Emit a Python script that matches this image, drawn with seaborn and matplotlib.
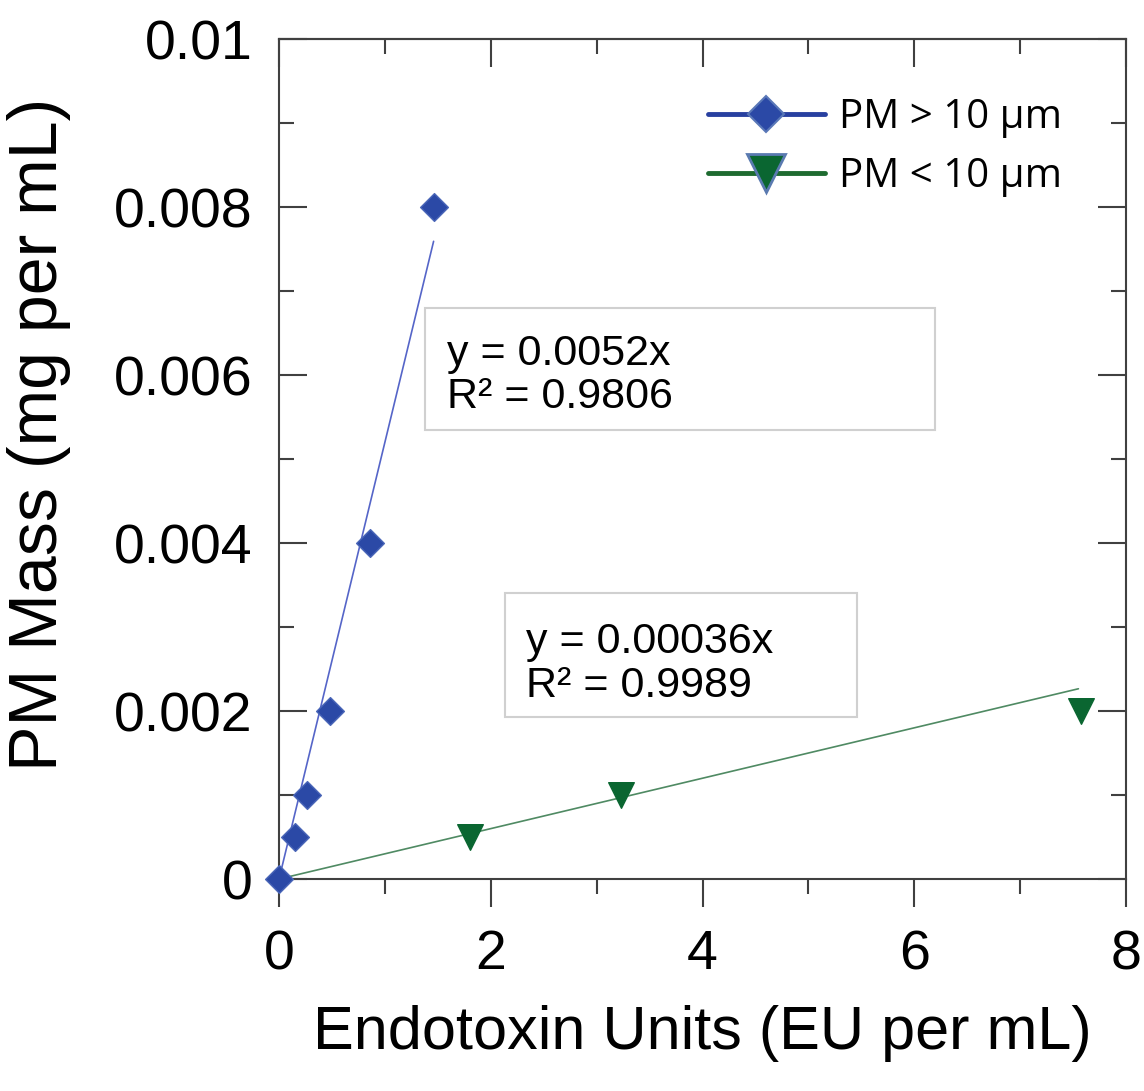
import numpy as np
import matplotlib
matplotlib.use("Agg")
import matplotlib.pyplot as plt
import seaborn as sns
from matplotlib.lines import Line2D
from matplotlib.patches import Rectangle
from matplotlib.ticker import MultipleLocator

# data
large_x = [0.0, 0.15, 0.26, 0.48, 0.86, 1.46]
large_y = [0.0, 0.0005, 0.001, 0.002, 0.004, 0.008]
small_x = [1.80, 3.23, 7.57]
small_y = [0.0005, 0.001, 0.002]

# trendline slopes as drawn in the reference (through origin)
trend_slopes = [0.0052, 0.0003]
trend_ends = [1.46, 7.55]

series_labels = ["PM > 10 \u03bcm", "PM < 10 \u03bcm"]
fit_text_large = ["y = 0.0052x", "R\u00b2 = 0.9806"]
fit_text_small = ["y = 0.00036x", "R\u00b2 = 0.9989"]

x_ticks = [0, 2, 4, 6, 8]
x_ticklabels = ["0", "2", "4", "6", "8"]
y_ticks = [0, 0.002, 0.004, 0.006, 0.008, 0.01]
y_ticklabels = ["0", "0.002", "0.004", "0.006", "0.008", "0.01"]

sns.set_style("ticks")
plt.rcParams["font.family"] = ["Liberation Sans", "DejaVu Sans"]
plt.rcParams["text.color"] = "black"
plt.rcParams["axes.labelcolor"] = "black"
plt.rcParams["xtick.labelcolor"] = "black"
plt.rcParams["ytick.labelcolor"] = "black"

blue = "#2b49a6"
green = "#0a6631"

fig = plt.figure(figsize=(11.44, 10.91), dpi=100)
ax = fig.add_axes([0.2439, 0.1943, 0.7404, 0.7699])

fx_large = np.array([0, trend_ends[0]])
fx_small = np.array([0, trend_ends[1]])
sns.lineplot(x=fx_small, y=trend_slopes[1] * fx_small, ax=ax, color="#4f8a63", lw=1.2, zorder=2)
sns.lineplot(x=fx_large, y=trend_slopes[0] * fx_large, ax=ax, color="#5565c8", lw=1.2, zorder=2)

sns.scatterplot(x=small_x, y=small_y, ax=ax, marker="v", s=340, color=green,
                edgecolor=green, linewidth=1, zorder=3)
sns.scatterplot(x=large_x, y=large_y, ax=ax, marker="D", s=200, color=blue,
                edgecolor="#4a66b8", linewidth=1, zorder=4, clip_on=False)

ax.set_xlim(0, 8)
ax.set_ylim(0, 0.01)
ax.set_xticks(x_ticks, x_ticklabels)
ax.set_yticks(y_ticks, y_ticklabels)
ax.xaxis.set_minor_locator(MultipleLocator(1))
ax.yaxis.set_minor_locator(MultipleLocator(0.001))

for s in ax.spines.values():
    s.set_visible(True)
    s.set_color("#404040")
    s.set_linewidth(1.5)

ax.tick_params(axis="x", which="both", direction="out", color="#404040", width=1.5,
               labelsize=40, pad=16)
ax.tick_params(axis="x", which="major", length=20)
ax.tick_params(axis="x", which="minor", length=11)
ax.tick_params(axis="y", which="both", direction="in", left=True, right=True,
               color="#404040", width=1.5, labelsize=40, pad=19)
ax.tick_params(axis="y", which="major", length=20)
ax.tick_params(axis="y", which="minor", length=11)

top = ax.secondary_xaxis("top")
top.set_xticks(x_ticks)
top.xaxis.set_minor_locator(MultipleLocator(1))
top.tick_params(which="both", direction="in", labeltop=False, color="#404040", width=1.5)
top.tick_params(which="major", length=20)
top.tick_params(which="minor", length=11)
top.spines["top"].set_color("#404040")
top.spines["top"].set_linewidth(1.5)

ax.set_xlabel("Endotoxin Units (EU per mL)", fontsize=44)
ax.set_ylabel("PM Mass (mg per mL)", fontsize=49)
ax.xaxis.set_label_coords(0.5, -0.150)
ax.yaxis.set_label_coords(-0.246, 0.529)

# fit annotation boxes
ax.add_patch(Rectangle((0.1724, 0.5345), 0.602, 0.1455, transform=ax.transAxes,
                       fill=False, edgecolor="#d0d0d0", lw=1.5, zorder=1))
ax.add_patch(Rectangle((0.2668, 0.1929), 0.4156, 0.1476, transform=ax.transAxes,
                       fill=False, edgecolor="#d0d0d0", lw=1.5, zorder=1))
for txt, yy in zip(fit_text_large, [0.612, 0.5607]):
    ax.text(0.1983, yy, txt, transform=ax.transAxes, fontsize=31, va="baseline")
for txt, yy in zip(fit_text_small, [0.269, 0.2167]):
    ax.text(0.2916, yy, txt, transform=ax.transAxes, fontsize=31, va="baseline")

handles = [
    Line2D([], [], color="#2840a0", lw=3.5, marker="D", markersize=18,
           markerfacecolor=blue, markeredgecolor="#5a78b8", markeredgewidth=1.5),
    Line2D([], [], color="#1e6b30", lw=3.5, marker="v", markersize=27,
           markerfacecolor=green, markeredgecolor="#5a7ab0", markeredgewidth=2),
]
ax.legend(handles=handles, labels=series_labels, loc="upper left",
          bbox_to_anchor=(0.5065, 0.93), frameon=False, borderpad=0,
          borderaxespad=0, handlelength=2.9, handletextpad=0.36, labelspacing=0.45,
          prop={"family": "Open Sans", "size": 29})

fig.savefig("out.png", dpi=100)
